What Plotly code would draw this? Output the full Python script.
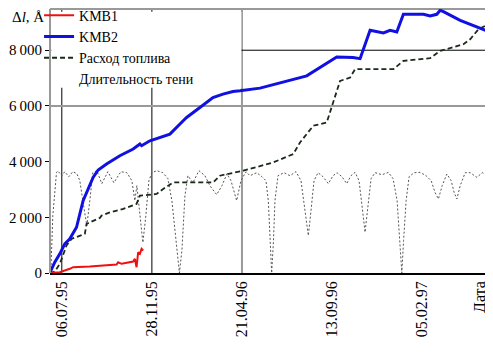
import pandas as pd
import plotly.graph_objects as go

START = pd.Timestamp("1995-07-06")

# KMB1 (days since 06.07.95, value in Å)
kmb1_day = [-19.3, -3.2, 12.9, 18.2, 45.1, 72.0, 88.1, 90.7, 96.2, 114.9, 117.6, 120.3, 122.9, 125.7, 128.4, 131.0]
kmb1_val = [0, 29, 150, 208, 233, 269, 305, 387, 330, 412, 509, 208, 745, 688, 867, 806]

# KMB2
kmb2_day = [-19.3, -11.3, -3.2, 4.8, 12.9, 23.7, 34.3, 50.4, 58.5, 72.0, 93.4, 114.9, 125.7, 128.4, 141.8,
            174.0, 195.4, 200.9, 222.3, 243.3, 259.4, 275.5, 286.8, 319.0, 394.2, 415.6, 442.5, 468.8, 480.1,
            496.2, 517.6, 528.4, 539.2, 549.8, 582.1, 592.8, 603.6, 609.0, 614.3, 641.2, 662.6, 684.2]
kmb2_val = [0, 387, 688, 1047, 1226, 1641, 2598, 3433, 3699, 3914, 4211, 4451, 4631, 4570, 4749,
            4989, 5466, 5584, 5942, 6301, 6423, 6516, 6541, 6638, 7078, 7376, 7759, 7734, 7698,
            8716, 8620, 8716, 8655, 9290, 9290, 9229, 9290, 9433, 9383, 9075, 8870, 8691]

# Расход топлива
fuel_day = [-19.3, -11.3, -3.2, 2.1, 7.6, 15.6, 29.0, 37.1, 39.8, 45.1, 61.2, 64.0, 77.3, 98.8, 120.3,
            125.7, 152.6, 163.2, 179.3, 243.7, 254.5, 292.1, 340.4, 372.6, 383.4, 404.8, 426.4, 447.9,
            464.0, 472.0, 533.7, 549.8, 592.8, 609.0, 646.5, 657.3, 670.6, 684.2]
fuel_val = [0, 54, 330, 688, 986, 1226, 1344, 1405, 1763, 1821, 1978, 2061, 2179, 2301, 2480,
            2778, 2838, 3018, 3254, 3254, 3494, 3674, 3971, 4272, 4688, 5286, 5405, 6899,
            7017, 7319, 7319, 7616, 7713, 7974, 8214, 8394, 8752, 8906]

# Длительность тени
shadow_day = [-17.7, -14.5, -8.5, -6.4, 0.0, 4.8, 11.3, 17.7, 24.2, 29.0, 33.8, 38.7, 40.3, 45.1, 49.9,
              56.4, 64.4, 74.1, 83.8, 95.0, 104.7, 112.8, 117.6, 120.8, 125.7, 130.5, 135.3, 140.2, 145.0,
              153.0, 162.7, 170.8, 177.2, 185.3, 189.3, 193.3, 198.2, 203.0, 211.0, 220.7, 230.4, 238.4,
              249.2, 257.8, 265.8, 272.3, 281.4, 288.4, 296.4, 302.9, 313.7, 322.2, 328.6, 332.4, 335.1,
              337.8, 340.7, 343.1, 348.0, 357.6, 367.3, 376.9, 385.0, 391.4, 396.8, 401.1, 406.0, 412.4,
              420.4, 429.0, 436.6, 443.0, 451.0, 458.6, 465.5, 472.0, 478.4, 483.2, 488.1, 492.9, 497.8,
              504.2, 515.5, 525.7, 533.2, 539.7, 544.5, 547.3, 550.1, 554.2, 559.0, 567.1, 576.7, 586.4,
              594.5, 600.9, 606.2, 612.2, 619.8, 626.7, 631.6, 635.9, 641.2, 649.3, 657.3, 668.2, 676.7, 684.8]
shadow_val = [0, 2061, 3613, 3667, 3494, 3638, 3458, 3638, 3566, 3315, 2598, 1810, 1702, 2598, 3602,
              3674, 3208, 3638, 3243, 3638, 3602, 3315, 2598, 3136, 2061, 1093, 2061, 3315, 3602,
              3674, 3602, 3387, 2598, 806, 0, 806, 2777, 3494, 3243, 3674, 3494, 3136,
              2813, 3136, 3566, 3315, 2598, 3315, 3638, 3494, 3602, 3458, 3315, 2598, 1165,
              0, 1165, 2598, 3494, 3602, 3494, 3638, 3315, 2240, 1344, 2240, 3315, 3602,
              3458, 3208, 3494, 3602, 3458, 3208, 3494, 3613, 3315, 2419, 1462, 2419, 3387,
              3602, 3530, 3613, 3387, 2598, 1165, 0, 1165, 2598, 3458, 3602, 3613, 3494,
              3315, 2885, 2659, 3136, 3555, 3315, 2885, 2659, 3136, 3602, 3602, 3433, 3602, 3530]

# Axis ticks
x_tick_dates = ["1995-07-06", "1995-11-28", "1996-04-21", "1996-09-13", "1997-02-05", "1997-05-09"]
x_tick_text = ["06.07.95", "28.11.95", "21.04.96", "13.09.96", "05.02.97", "Дата"]
y_tick_vals = [0, 2000, 4000, 6000, 8000]
y_tick_text = ["0", "2\u2009000", "4\u2009000", "6\u2009000", "8\u2009000"]
x_range = ["1995-06-17", "1997-05-22"]
y_range = [0, 9480]


def to_dates(days):
    return START + pd.to_timedelta(days, unit="D")


FONT = "Liberation Serif, Times New Roman, serif"
GRAY = "#999999"

fig = go.Figure()
fig.add_trace(go.Scatter(x=to_dates(shadow_day), y=shadow_val, mode="lines", showlegend=False,
                         line=dict(color="#555555", width=1, dash="2px,2px")))
fig.add_trace(go.Scatter(x=to_dates(fuel_day), y=fuel_val, mode="lines", name="Расход топлива",
                         legendrank=3, line=dict(color="#1a2a1a", width=1.8, dash="5px,3px")))
fig.add_trace(go.Scatter(x=to_dates(kmb2_day), y=kmb2_val, mode="lines", name="KMB2",
                         legendrank=2, line=dict(color="#1010e0", width=3)))
fig.add_trace(go.Scatter(x=to_dates(kmb1_day), y=kmb1_val, mode="lines", name="KMB1",
                         legendrank=1, line=dict(color="#ee1111", width=2)))
fig.add_trace(go.Scatter(x=[None], y=[None], mode="lines", name="Длительность тени",
                         legendrank=4, line=dict(color="rgba(0,0,0,0)", width=1)))

shapes = []
grid_colors = ["black", "black", GRAY]
grid_widths = [1, 1, 2]
for d, c, w in zip(x_tick_dates[:3], grid_colors, grid_widths):
    shapes.append(dict(type="line", xref="x", yref="paper", x0=d, x1=d, y0=0, y1=1,
                       line=dict(color=c, width=w), layer="below"))
for v, c, w in zip(y_tick_vals[3:], [GRAY, "black"], [2, 1]):
    shapes.append(dict(type="line", xref="paper", yref="y", x0=0, x1=1, y0=v, y1=v,
                       line=dict(color=c, width=w), layer="below"))
# top frame line
shapes.append(dict(type="line", xref="paper", yref="paper", x0=0, x1=1, y0=1, y1=1,
                   line=dict(color=GRAY, width=2), layer="below"))
# white legend backdrop (hides grid behind the legend)
shapes.append(dict(type="rect", xref="paper", yref="paper", x0=0.003, x1=0.437, y0=0.702, y1=0.99,
                   fillcolor="white", line=dict(width=0), layer="below"))
# left frame line
shapes.append(dict(type="line", xref="paper", yref="paper", x0=0, x1=0, y0=0, y1=1,
                   line=dict(color=GRAY, width=2), layer="above"))

# The page body has an 8px margin: figure is offset by (8, 8) in the window.
fig.update_layout(
    width=485, height=347,
    margin=dict(l=42, r=5, t=1, b=82, autoexpand=False),
    paper_bgcolor="white", plot_bgcolor="white",
    font=dict(family=FONT, size=15, color="black"),
    shapes=shapes,
    legend=dict(x=-0.025, xanchor="left", y=1.035, yanchor="top", bgcolor="rgba(0,0,0,0)",
                borderwidth=0, itemwidth=30, tracegroupgap=0,
                font=dict(family=FONT, size=14, color="black")),
    xaxis=dict(type="date", range=x_range, tickmode="array", tickvals=x_tick_dates,
               ticktext=x_tick_text, tickangle=-90, showgrid=False, zeroline=False,
               showline=True, linecolor="black", linewidth=1.5, ticks="", automargin=False,
               tickfont=dict(family=FONT, size=16)),
    yaxis=dict(range=y_range, tickmode="array", tickvals=y_tick_vals, ticktext=y_tick_text,
               showgrid=False, zeroline=False, showline=False,
               ticks="outside", ticklen=4, tickcolor="black", automargin=False,
               tickfont=dict(family=FONT, size=15)),
    annotations=[dict(text="Δ<i>l</i>, Å", xref="paper", yref="paper", x=0, y=1,
                      xanchor="right", yanchor="middle", xshift=-4, yshift=-8, showarrow=False,
                      font=dict(family=FONT, size=15))],
)

fig.write_html("out.html")
